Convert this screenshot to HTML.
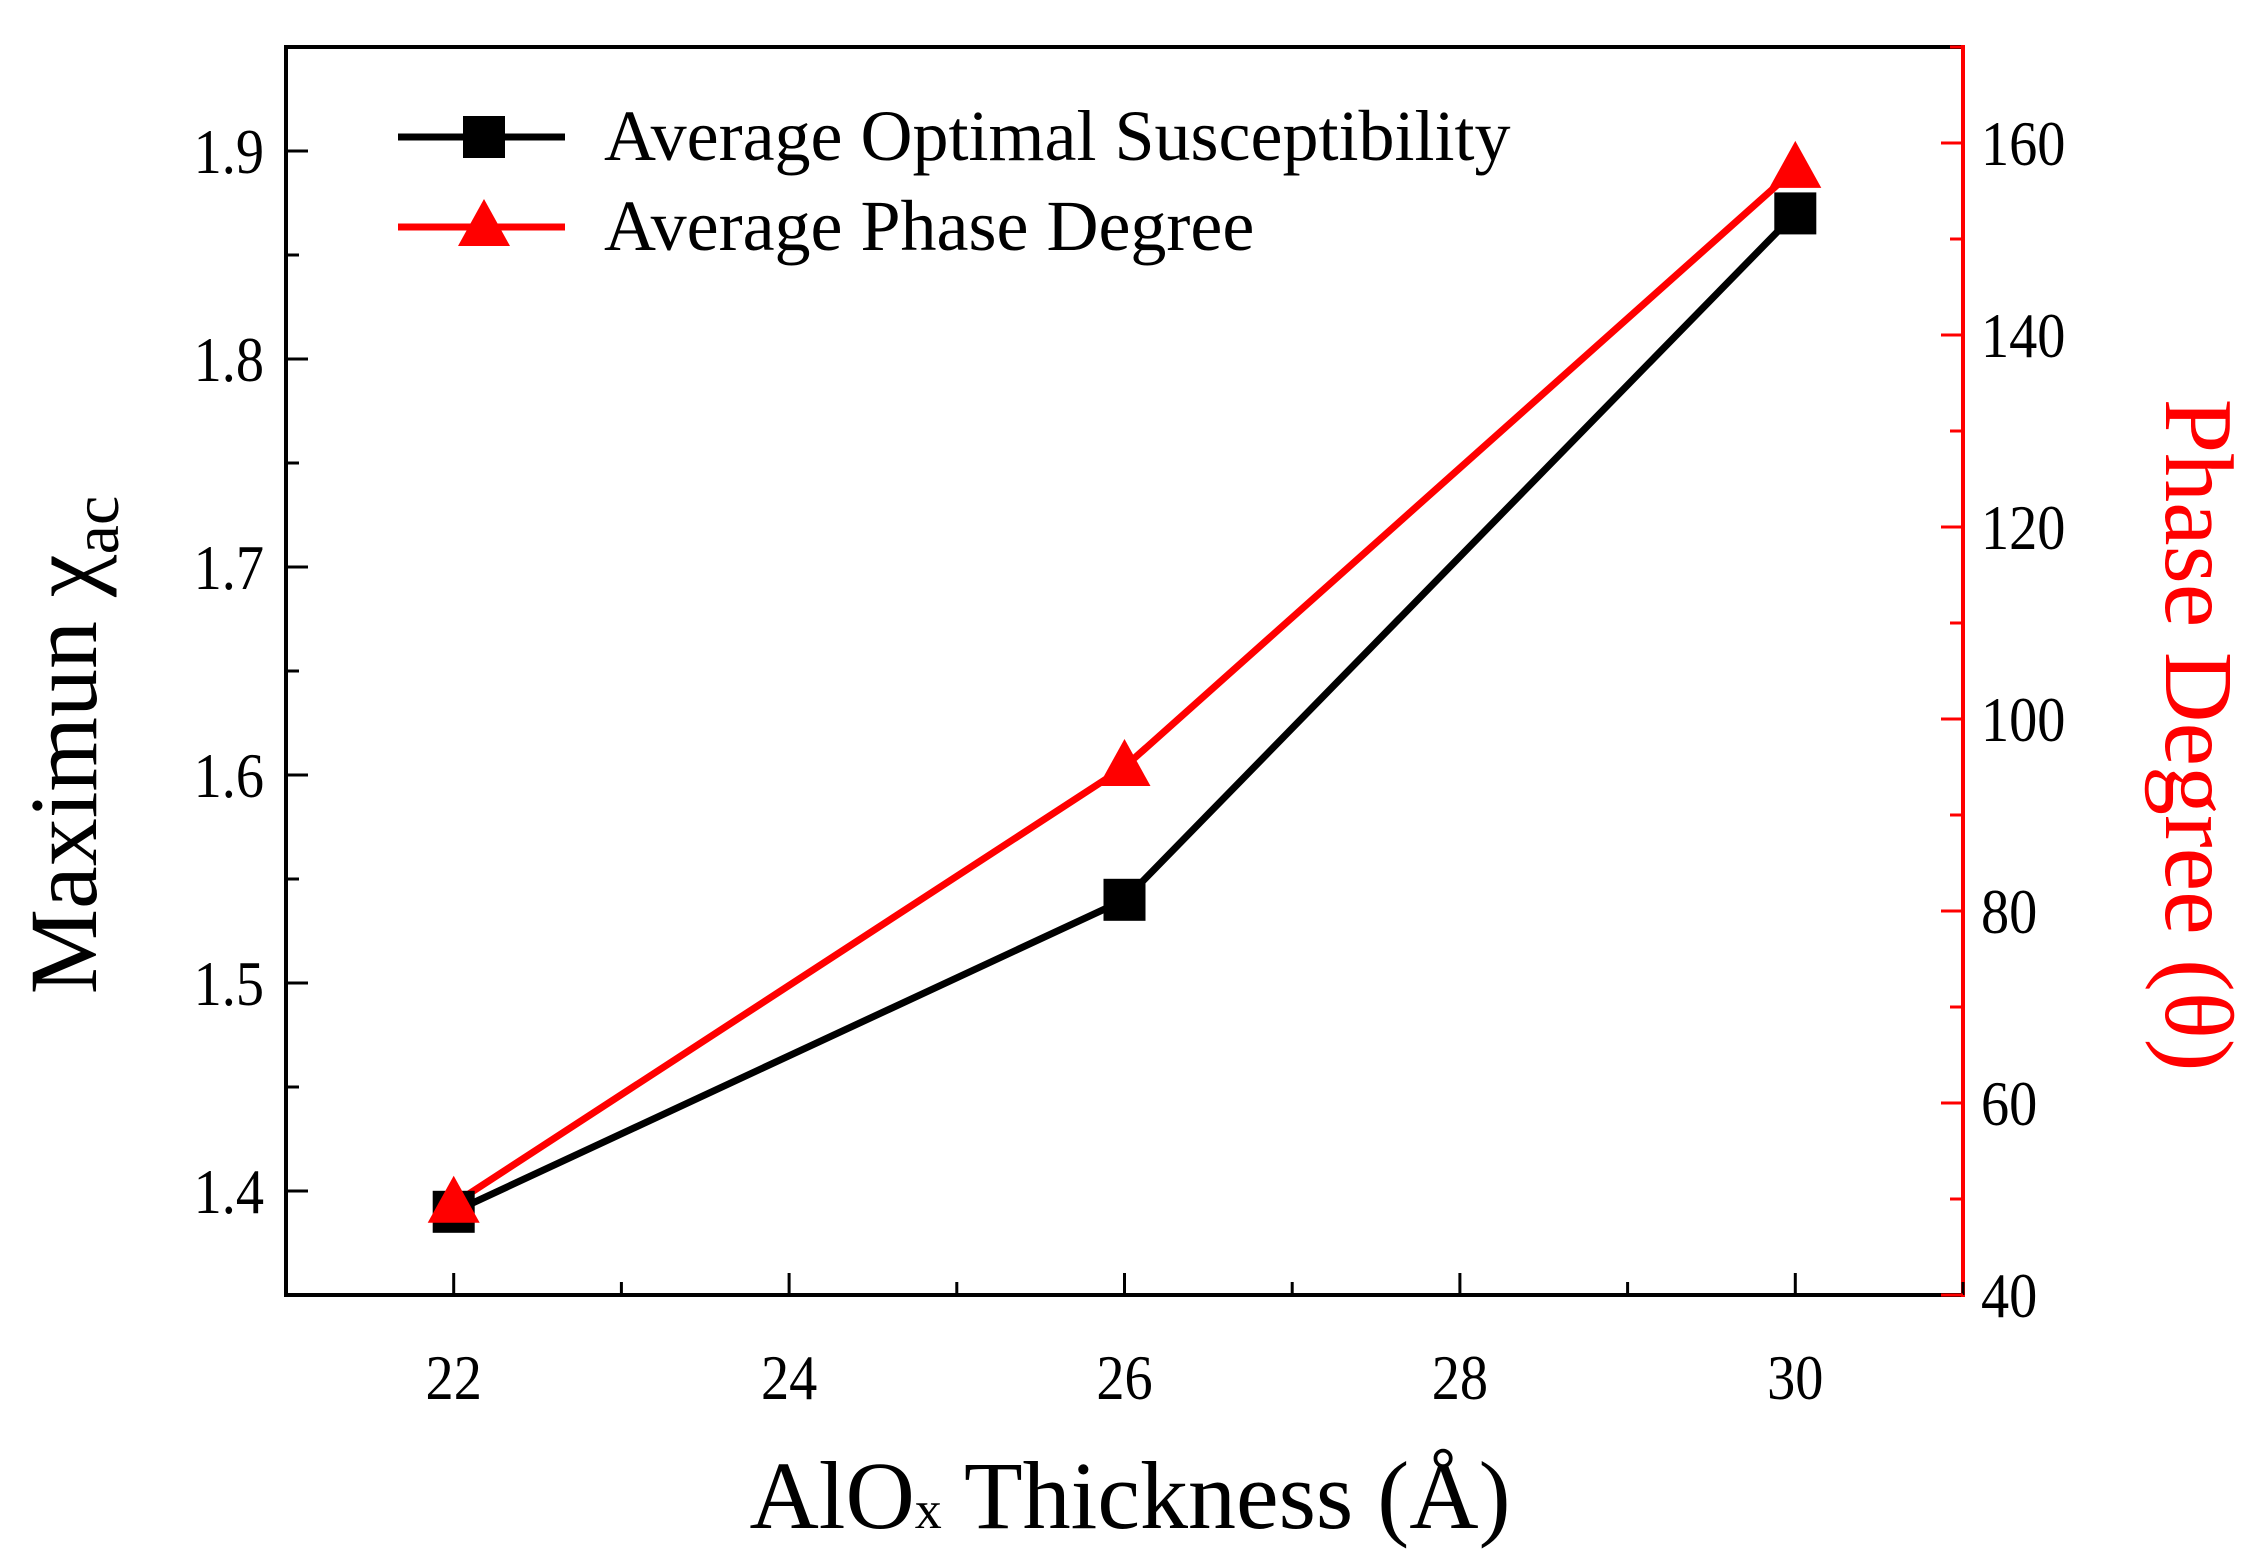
<!DOCTYPE html>
<html><head><meta charset="utf-8"><style>
html,body{margin:0;padding:0;background:#fff}
svg{display:block;font-family:"Liberation Serif",serif}
</style></head><body>
<svg width="2244" height="1557" viewBox="0 0 2244 1557">
<g id="g"></g>
</svg>
<script>
const xValues=[22,26,30];
const susceptibility=[1.39,1.54,1.87];
const phase=[49.5,95,157.3];
const xTicks=[22,24,26,28,30];
const leftTicks=[1.4,1.5,1.6,1.7,1.8,1.9];
const rightTicks=[40,60,80,100,120,140,160];

const L=286,R=1963,T=47,B=1295;
const sx=v=>L+(v-21)/(31-21)*(R-L);
const sy=v=>B-(v-1.35)/(1.95-1.35)*(B-T);
const sr=v=>B-(v-40)/(170-40)*(B-T);
const NS='http://www.w3.org/2000/svg';
const g=document.getElementById('g');
function el(tag,attrs,txt){const e=document.createElementNS(NS,tag);for(const k in attrs)e.setAttribute(k,attrs[k]);if(txt!==undefined)e.textContent=txt;g.appendChild(e);return e;}

let p=xValues.map((x,i)=>sx(x)+','+sy(susceptibility[i])).join(' ');
let e=el('polyline',{points:p,fill:'none',stroke:'#000','stroke-width':7});


p=xValues.map((x,i)=>sx(x)+','+sr(phase[i])).join(' ');
e=el('polyline',{points:p,fill:'none',stroke:'#f00','stroke-width':7});


xValues.forEach((x,i)=>{
  const cx=sx(x),cy=sy(susceptibility[i]);
  const m=el('rect',{x:cx-21,y:cy-21,width:42,height:42,fill:'#000'});
  
  
});
xValues.forEach((x,i)=>{
  const cx=sx(x),cy=sr(phase[i]);
  const m=el('polygon',{points:`${cx},${cy-28} ${cx-26},${cy+19} ${cx+26},${cy+19}`,fill:'#f00'});
  
  
});

e=el('line',{x1:L,y1:T,x2:R,y2:T,stroke:'#000','stroke-width':4});

e=el('line',{x1:L,y1:T-2,x2:L,y2:B+2,stroke:'#000','stroke-width':4});

e=el('line',{x1:L,y1:B,x2:R,y2:B,stroke:'#000','stroke-width':4});

e=el('line',{x1:R,y1:T-2,x2:R,y2:B+2,stroke:'#f00','stroke-width':4});


for(let v=21;v<=31;v++){const major=v%2===0;el('line',{x1:sx(v),y1:B,x2:sx(v),y2:B-(major?22:13),stroke:'#000','stroke-width':3});}
xTicks.forEach(v=>{const t=el('text',{x:sx(v),y:B+104,'font-size':64,'text-anchor':'middle',transform:`translate(${sx(v)*0.12},0) scale(0.88,1)`},v);
t.setAttribute('x',sx(v));
});
for(let k=0;k<=12;k++){const v=1.35+k*0.05;const major=k%2===1;el('line',{x1:L,y1:sy(v),x2:L+(major?22:13),y2:sy(v),stroke:'#000','stroke-width':3});}
leftTicks.forEach(v=>{const t=el('text',{x:L-22,y:sy(v)+22,'font-size':64,'text-anchor':'end',transform:`translate(${(L-22)*0.12},0) scale(0.88,1)`},v.toFixed(1));
});
for(let v=40;v<=170;v+=10){const major=v%20===0;el('line',{x1:R,y1:sr(v),x2:R-(major?22:13),y2:sr(v),stroke:'#f00','stroke-width':3});}
rightTicks.forEach(v=>{const t=el('text',{x:R+18,y:sr(v)+22,'font-size':64,transform:`translate(${(R+18)*0.12},0) scale(0.88,1)`},v);
});

let t=el('text',{x:1130,y:1528,'font-size':96,'text-anchor':'middle'});

t.innerHTML='AlO<tspan font-size="54">x</tspan> Thickness (Å)';
t=el('text',{transform:'translate(96,745) rotate(-90)','font-size':96,'text-anchor':'middle'});

t.innerHTML='Maximun χ<tspan font-size="66" dy="22">ac</tspan>';
t=el('text',{transform:'translate(2166,735) rotate(90)','font-size':98,'text-anchor':'middle',fill:'#f00'},'Phase Degree (θ)');


e=el('line',{x1:398,y1:137,x2:565,y2:137,stroke:'#000','stroke-width':7});

e=el('rect',{x:463,y:116,width:42,height:42,fill:'#000'});

t=el('text',{x:604,y:160,'font-size':72},'Average Optimal Susceptibility');

e=el('line',{x1:398,y1:227,x2:565,y2:227,stroke:'#f00','stroke-width':7});

e=el('polygon',{points:'484,199 458,246 510,246',fill:'#f00'});

t=el('text',{x:604,y:250,'font-size':72},'Average Phase Degree');

</script>
</body></html>
